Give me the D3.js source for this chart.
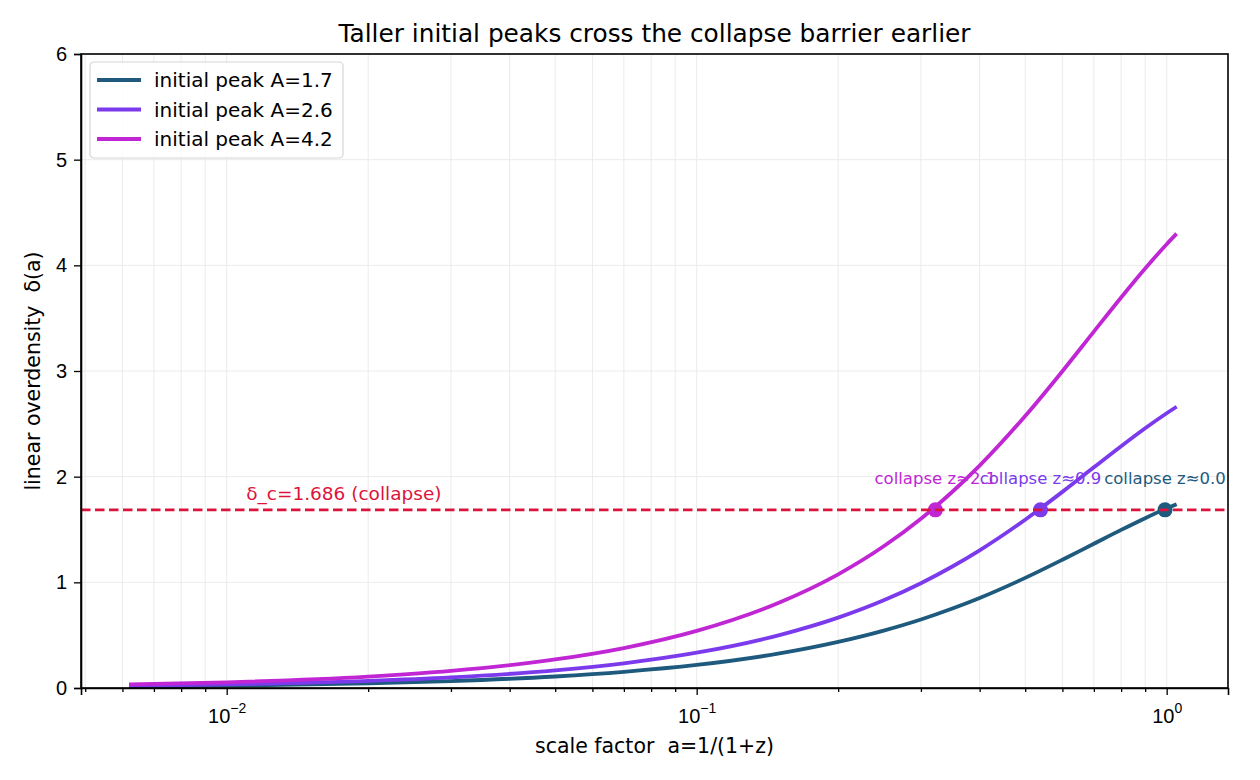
<!DOCTYPE html>
<html>
<head>
<meta charset="utf-8">
<script src="https://cdn.jsdelivr.net/npm/d3@7"></script>
<style>
  body { margin: 0; background: #fff; }
  svg { font-family: "DejaVu Sans", sans-serif; }
  .axis path, .axis line { stroke: #000; }
  .axis text { fill: #000; }
  .pre { white-space: pre; }
</style>
</head>
<body>
<svg width="1260" height="780"></svg>
<script>
// scale factor samples and overdensity
var aVals    = [0.0062, 0.01, 0.02, 0.03, 0.05, 0.07, 0.1, 0.15, 0.2, 0.25, 0.3, 0.35, 0.4, 0.5, 0.6, 0.7, 0.8, 0.9, 1.0, 1.05];
var delta17  = [0.0136, 0.0218, 0.0437, 0.0656, 0.109, 0.153, 0.218, 0.327, 0.436, 0.543, 0.648, 0.752, 0.852, 1.042, 1.214, 1.365, 1.496, 1.607, 1.700, 1.740];
var delta26  = [0.0207, 0.0334, 0.0668, 0.100, 0.167, 0.234, 0.334, 0.501, 0.666, 0.830, 0.992, 1.150, 1.303, 1.593, 1.856, 2.088, 2.288, 2.458, 2.600, 2.662];
var delta42  = [0.0335, 0.054, 0.108, 0.162, 0.270, 0.378, 0.540, 0.809, 1.076, 1.341, 1.602, 1.857, 2.105, 2.574, 2.998, 3.373, 3.696, 3.970, 4.200, 4.300];

var seriesNames  = ["initial peak A=1.7", "initial peak A=2.6", "initial peak A=4.2"];
var seriesColors = ["#1e5a7e", "#7c3aed", "#c026d3"];

// where each curve crosses delta_c
var collapseA      = [0.992, 0.539, 0.322];
var collapseLabels = ["collapse z\u22480.0", "collapse z\u22480.9", "collapse z\u22482.1"];
var deltaC = 1.686;

var xTickExps = [-2, -1, 0];
var yTicks = [0, 1, 2, 3, 4, 5, 6];

var svg = d3.select("svg"),
    margin = {top: 54, right: 32, bottom: 92, left: 81},
    width = 1260 - margin.left - margin.right,
    height = 780 - margin.top - margin.bottom,
    g = svg.append("g").attr("transform", "translate(" + margin.left + "," + margin.top + ")");

var x = d3.scaleLog()
    .domain([Math.pow(10, -2.310), Math.pow(10, 0.1305)])
    .range([0, width]);

var y = d3.scaleLinear()
    .domain([0, 6])
    .range([height, 0]);

// minor positions on the log axis
var minorVals = [];
for (var e = -3; e <= 0; e++) {
  for (var k = 2; k <= 9; k++) {
    var v = k * Math.pow(10, e);
    if (v >= x.domain()[0] && v <= x.domain()[1]) minorVals.push(v);
  }
}
var majorVals = xTickExps.map(function(p) { return Math.pow(10, p); });

// grid
var grid = g.append("g");
grid.selectAll(".gx").data(minorVals.concat(majorVals)).enter().append("line")
    .attr("x1", function(d) { return x(d); }).attr("x2", function(d) { return x(d); })
    .attr("y1", 0).attr("y2", height)
    .attr("stroke", "#ebebeb").attr("stroke-width", 1);
grid.selectAll(".gy").data(yTicks).enter().append("line")
    .attr("x1", 0).attr("x2", width)
    .attr("y1", function(d) { return y(d); }).attr("y2", function(d) { return y(d); })
    .attr("stroke", "#ebebeb").attr("stroke-width", 1);

// curves
var seriesData = [delta17, delta26, delta42];
var line = d3.line()
    .x(function(d) { return x(d[0]); })
    .y(function(d) { return y(d[1]); })
    .curve(d3.curveMonotoneX);

g.append("g").selectAll("path")
    .data(seriesData)
  .enter().append("path")
    .attr("fill", "none")
    .attr("stroke", function(d, i) { return seriesColors[i]; })
    .attr("stroke-width", 3.8)
    .attr("d", function(d) { return line(aVals.map(function(a, j) { return [a, d[j]]; })); });

// collapse markers
g.append("g").selectAll("circle")
    .data(collapseA)
  .enter().append("circle")
    .attr("cx", function(d) { return x(d); })
    .attr("cy", y(deltaC))
    .attr("r", 7.5)
    .attr("fill", function(d, i) { return seriesColors[i]; });

g.append("g").selectAll("text")
    .data(collapseA)
  .enter().append("text")
    .attr("x", function(d) { return x(d); })
    .attr("y", y(deltaC) - 26)
    .attr("text-anchor", "middle")
    .attr("font-size", 16.5)
    .attr("fill", function(d, i) { return seriesColors[i]; })
    .text(function(d, i) { return collapseLabels[i]; });

// collapse barrier
g.append("line")
    .attr("x1", 0).attr("x2", width)
    .attr("y1", y(deltaC)).attr("y2", y(deltaC))
    .attr("stroke", "#dc143c")
    .attr("stroke-width", 2.6)
    .attr("stroke-dasharray", "9.5,4.5");

g.append("text")
    .attr("x", x(0.011))
    .attr("y", y(deltaC) - 10)
    .attr("font-size", 18.5)
    .attr("fill", "#dc143c")
    .text("\u03b4_c=1.686 (collapse)");

// axes
var xAxis = g.append("g")
    .attr("class", "axis")
    .attr("transform", "translate(0," + height + ")")
    .call(d3.axisBottom(x).tickValues(majorVals).tickSize(7).tickPadding(7).tickFormat(""))
    .attr("font-size", 20);
xAxis.selectAll(".tick text").each(function(d) {
  var p = Math.round(Math.log10(d));
  var t = d3.select(this).attr("y", 14).attr("dy", 21);
  t.append("tspan").text("10");
  t.append("tspan").attr("dy", -10).attr("font-size", 14)
      .text(p < 0 ? "\u2212" + Math.abs(p) : String(p));
});

g.append("g")
    .attr("class", "axis")
    .attr("transform", "translate(0," + height + ")")
    .call(d3.axisBottom(x).tickValues(minorVals).tickSize(4).tickFormat(""))
    .select(".domain").remove();

g.append("g")
    .attr("class", "axis")
    .call(d3.axisLeft(y).tickValues(yTicks).tickSize(7).tickPadding(7).tickFormat(d3.format("d")))
    .attr("font-size", 20);

g.selectAll(".axis .domain").attr("stroke-width", 1.6);
g.selectAll(".axis .tick line").attr("stroke-width", 1.3);

// frame
g.append("rect")
    .attr("width", width).attr("height", height)
    .attr("fill", "none").attr("stroke", "#000").attr("stroke-width", 1.6);

// labels
svg.append("text")
    .attr("x", margin.left + width / 2)
    .attr("y", 42)
    .attr("text-anchor", "middle")
    .attr("font-size", 24.8)
    .text("Taller initial peaks cross the collapse barrier earlier");

svg.append("text")
    .attr("class", "pre")
    .attr("x", margin.left + width / 2)
    .attr("y", 753)
    .attr("text-anchor", "middle")
    .attr("font-size", 20.5)
    .text("scale factor  a=1/(1+z)");

svg.append("text")
    .attr("class", "pre")
    .attr("transform", "translate(39.5," + (margin.top + height / 2) + ") rotate(-90)")
    .attr("text-anchor", "middle")
    .attr("font-size", 20.5)
    .text("linear overdensity  \u03b4(a)");

// legend
var legend = g.append("g").attr("transform", "translate(9,8)");
legend.append("rect")
    .attr("width", 253).attr("height", 96)
    .attr("rx", 4)
    .attr("fill", "#fff").attr("fill-opacity", 0.85)
    .attr("stroke", "#d5d5d5").attr("stroke-width", 1.2);

var items = legend.selectAll(".item")
    .data(seriesNames)
  .enter().append("g")
    .attr("transform", function(d, i) { return "translate(0," + (18 + i * 29.5) + ")"; });
items.append("line")
    .attr("x1", 7).attr("x2", 51)
    .attr("stroke", function(d, i) { return seriesColors[i]; })
    .attr("stroke-width", 3.8);
items.append("text")
    .attr("x", 64)
    .attr("dy", "0.35em")
    .attr("font-size", 20)
    .text(function(d) { return d; });
</script>
</body>
</html>
